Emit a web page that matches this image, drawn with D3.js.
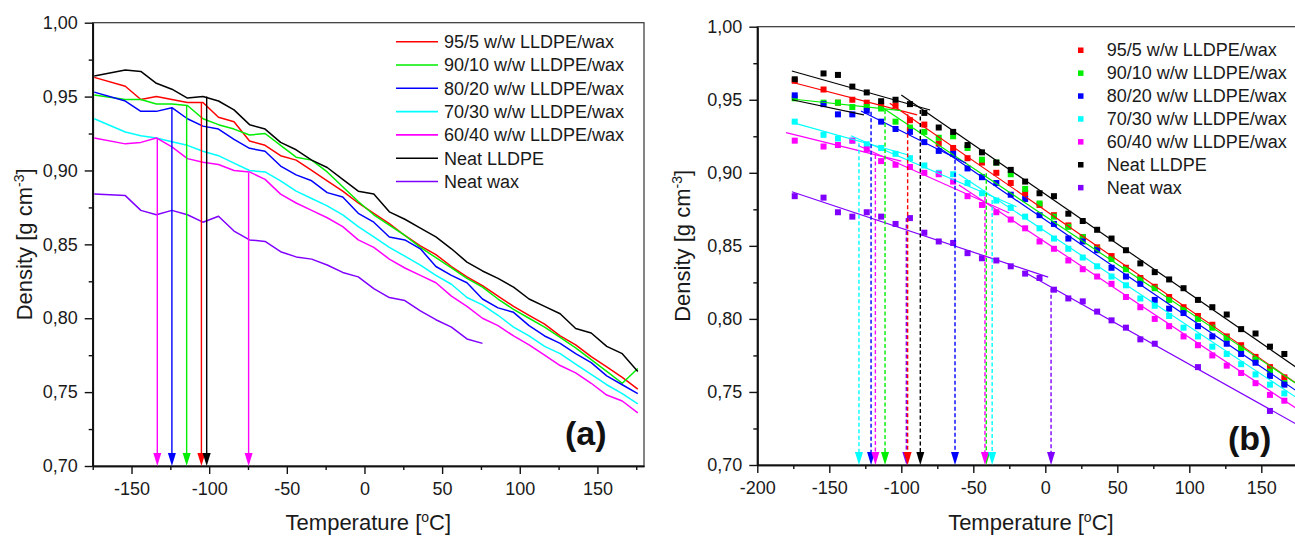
<!DOCTYPE html>
<html>
<head>
<meta charset="utf-8">
<script src="https://cdn.jsdelivr.net/npm/d3@7"></script>
<style>
  body { margin: 0; background: #fff; }
  svg { display: block; font-family: "Liberation Sans", Arial, sans-serif; }
</style>
</head>
<body>
<svg width="1295" height="537"></svg>
<script>
// measurement temperatures (°C)
const temps = [-174,-154,-144,-134,-124,-114,-104,-94,-84,-74,-64,-54,-44,-34,-24,-14,-4,6,16,26,36,46,56,66,76,86,96,106,116,126,136,146,156,166,176];

// densities (g cm-3), one per temperature
const blend95 = [0.963,0.957,0.948,0.950,0.948,0.946,0.946,0.936,0.933,0.920,0.917,0.910,0.907,0.900,0.893,0.886,0.878,0.871,0.864,0.856,0.849,0.843,0.835,0.828,0.822,0.815,0.808,0.802,0.796,0.788,0.782,0.774,0.767,0.760,0.752];
const blend90 = [0.951,0.948,0.948,0.945,0.945,0.944,0.935,0.931,0.928,0.924,0.925,0.917,0.909,0.907,0.899,0.889,0.879,0.870,0.863,0.856,0.848,0.841,0.834,0.827,0.821,0.813,0.806,0.800,0.794,0.787,0.780,0.772,0.764,0.756,0.766];
const blend80 = [0.953,0.947,0.940,0.940,0.9425,0.935,0.930,0.928,0.921,0.915,0.913,0.903,0.897,0.893,0.885,0.882,0.871,0.865,0.855,0.853,0.847,0.835,0.829,0.824,0.813,0.807,0.804,0.795,0.788,0.783,0.776,0.770,0.761,0.755,0.749];
const blend70 = [0.935,0.926,0.9235,0.922,0.9195,0.917,0.913,0.910,0.905,0.900,0.899,0.893,0.886,0.881,0.876,0.870,0.862,0.855,0.848,0.842,0.836,0.829,0.823,0.814,0.809,0.802,0.794,0.788,0.781,0.776,0.769,0.762,0.755,0.749,0.742];
const blend60 = [0.922,0.918,0.919,0.922,0.916,0.908,0.9055,0.904,0.900,0.899,0.894,0.884,0.878,0.873,0.868,0.862,0.853,0.848,0.840,0.834,0.829,0.824,0.815,0.808,0.800,0.795,0.788,0.782,0.775,0.768,0.763,0.756,0.748,0.744,0.736];
const neatLLDPE = [0.964,0.968,0.967,0.959,0.955,0.949,0.950,0.947,0.941,0.931,0.928,0.919,0.914,0.907,0.902,0.894,0.886,0.884,0.872,0.867,0.861,0.855,0.847,0.838,0.832,0.827,0.821,0.813,0.808,0.803,0.793,0.790,0.781,0.776,0.764];
const neatWax = [0.884,0.883,0.873,0.870,0.873,0.870,0.865,0.869,0.859,0.853,0.852,0.845,0.8415,0.840,0.836,0.831,0.828,0.820,0.814,0.812,0.805,0.799,0.794,0.786,0.783,null,null,0.767,null,null,null,null,0.737,null,null];

// linear fits of panel (b): [T1, rho1, T2, rho2]
const fit95 = [[-176,0.962,-89,0.9396],[-108,0.9476,180,0.752]];
const fit90 = [[-176,0.9505,-100,0.9425],[-113,0.9445,180,0.752]];
const fit80 = [[-128,0.9423,-55,0.9065],[-75,0.918,180,0.747]];
const fit70 = [[-176,0.9345,-95,0.9122],[-135,0.9254,-20,0.8768],[-60,0.899,180,0.7425]];
const fit60 = [[-180,0.9275,-100,0.908],[-130,0.9187,-25,0.8725],[-60,0.8917,180,0.735]];
const fitLLDPE = [[-176,0.9697,-80,0.943],[-100,0.9533,180,0.763],[-176,0.950,-126,0.9396]];
const fitWax = [[-176,0.887,2,0.8286],[-15,0.8323,180,0.7249]];

// transition arrows
const arrowSeriesA = [4,2,1,0,5,4];
const arrowTempA = [-133.4,-124,-114.5,-105,-101.6,-74.6];
const arrowRhoA = [0.9218,0.9425,0.9436,0.9463,0.950,0.8985];
const arrowSeriesB = [3,2,4,1,6,0,5,2,1,4,3,6];
const arrowTempB = [-129.4,-121,-118,-111.3,-96.5,-95.6,-86.8,-62.7,-41,-41.9,-36.9,4];
const arrowRhoB = [0.9202,0.9418,0.9122,0.943,0.869,0.940,0.943,0.9133,0.8997,0.8836,0.8814,0.821];

const seriesNames = ["95/5 w/w LLDPE/wax","90/10 w/w LLDPE/wax","80/20 w/w LLDPE/wax","70/30 w/w LLDPE/wax","60/40 w/w LLDPE/wax","Neat LLDPE","Neat wax"];
const seriesValues = [blend95,blend90,blend80,blend70,blend60,neatLLDPE,neatWax];
const seriesFits = [fit95,fit90,fit80,fit70,fit60,fitLLDPE,fitWax];

const yTicks = [0.70,0.75,0.80,0.85,0.90,0.95,1.00];
const yMinor = [0.725,0.775,0.825,0.875,0.925,0.975];
const xTicksA = [-150,-100,-50,0,50,100,150];
const xMinorA = [-175,-125,-75,-25,25,75,125,175];
const xTicksB = [-200,-150,-100,-50,0,50,100,150];
const xMinorB = [-175,-125,-75,-25,25,75,125,175];

const color = d3.scaleOrdinal().domain(seriesNames)
  .range(["#ff0000","#00ee00","#0000ff","#00ffff","#ff00ff","#000000","#8000ff"]);

const svg = d3.select("svg");

function makePanel(xDomain, xRange, yRange){
  return {
    x: d3.scaleLinear().domain(xDomain).range(xRange),
    y: d3.scaleLinear().domain([0.70, 1.00]).range(yRange)
  };
}
const A = makePanel([-175, 180], [92.7, 644], [466, 22.7]);
const B = makePanel([-200, 180], [757.3, 1304.5], [465, 26.7]);

function styleAxis(g){
  g.attr("font-family", null).attr("font-size", null);
  g.selectAll(".domain").attr("stroke", "#111").attr("stroke-width", 1.7);
  g.selectAll(".tick line").attr("stroke", "#111").attr("stroke-width", 1.4);
  g.selectAll("text").attr("fill", "#1a1a1a").style("font-size", "18px");
}

function drawAxes(p, xTicks, xMinor){
  const [x0, x1] = p.x.range(), [y0, y1] = p.y.range();
  svg.append("rect").attr("x", x0).attr("y", y1)
    .attr("width", x1 - x0).attr("height", y0 - y1)
    .attr("fill", "none").attr("stroke", "#333").attr("stroke-width", 1.2);

  svg.append("g").attr("transform", "translate(0," + y0 + ")")
    .call(d3.axisBottom(p.x).tickValues(xMinor).tickSize(4).tickSizeOuter(0).tickFormat(""))
    .call(styleAxis);
  svg.append("g").attr("transform", "translate(0," + y0 + ")")
    .call(d3.axisBottom(p.x).tickValues(xTicks).tickSize(8).tickSizeOuter(0).tickPadding(8)
      .tickFormat(d => String(d)))
    .call(styleAxis);

  svg.append("g").attr("transform", "translate(" + x0 + ",0)")
    .call(d3.axisLeft(p.y).tickValues(yMinor).tickSize(4).tickSizeOuter(0).tickFormat(""))
    .call(styleAxis);
  svg.append("g").attr("transform", "translate(" + x0 + ",0)")
    .call(d3.axisLeft(p.y).tickValues(yTicks).tickSize(8).tickSizeOuter(0).tickPadding(7)
      .tickFormat(d => d3.format(".2f")(d).replace(".", ",")))
    .call(styleAxis);
}

function axisTitles(p, yTitleX, xTitleX){
  const yMid = (p.y.range()[0] + p.y.range()[1]) / 2;
  const t = svg.append("text")
    .attr("transform", "translate(" + yTitleX + "," + yMid + ") rotate(-90)")
    .attr("text-anchor", "middle").style("font-size", "22px").attr("fill", "#1a1a1a");
  t.append("tspan").text("Density [g cm");
  t.append("tspan").attr("dy", -8).style("font-size", "14px").text("-3");
  t.append("tspan").attr("dy", 8).text("]");

  const u = svg.append("text").attr("x", xTitleX).attr("y", 530)
    .attr("text-anchor", "middle").style("font-size", "22px").attr("fill", "#1a1a1a");
  u.append("tspan").text("Temperature [");
  u.append("tspan").attr("dy", -8).style("font-size", "14px").text("o");
  u.append("tspan").attr("dy", 8).text("C]");
}

function drawArrow(p, t, rho, c, dashed){
  const xx = p.x(t), yTop = p.y(rho), yBot = p.y(0.70);
  svg.append("line").attr("x1", xx).attr("x2", xx).attr("y1", yTop).attr("y2", yBot - 8)
    .attr("stroke", c).attr("stroke-width", 1.4)
    .attr("stroke-dasharray", dashed ? "4,2.5" : null);
  svg.append("path")
    .attr("d", "M" + (xx - 4) + "," + (yBot - 13) + "L" + (xx + 4) + "," + (yBot - 13) + "L" + xx + "," + yBot + "Z")
    .attr("fill", c);
}

// ---------- panel (a) ----------
drawAxes(A, xTicksA, xMinorA);
axisTitles(A, 32, (A.x.range()[0] + A.x.range()[1]) / 2);

const lineA = d3.line().defined(d => d[1] != null).x(d => A.x(d[0])).y(d => A.y(d[1]));
seriesNames.forEach((name, i) => {
  svg.append("path")
    .datum(temps.map((t, j) => [t, seriesValues[i][j]]))
    .attr("fill", "none").attr("stroke", color(name)).attr("stroke-width", 1.5)
    .attr("stroke-linejoin", "round").attr("d", lineA);
});
arrowTempA.forEach((t, i) => drawArrow(A, t, arrowRhoA[i], color(seriesNames[arrowSeriesA[i]]), false));

const legA = svg.append("g");
seriesNames.forEach((name, i) => {
  const yy = 41.7 + i * 23.3;
  legA.append("line").attr("x1", 396).attr("x2", 438).attr("y1", yy).attr("y2", yy)
    .attr("stroke", color(name)).attr("stroke-width", 1.6);
  legA.append("text").attr("x", 444).attr("y", yy).attr("dy", "0.36em")
    .style("font-size", "18px").attr("fill", "#1a1a1a").text(name);
});
svg.append("text").attr("x", 565).attr("y", 445).style("font-size", "34px")
  .attr("font-weight", "bold").attr("fill", "#111").text("(a)");

// ---------- panel (b) ----------
drawAxes(B, xTicksB, xMinorB);
axisTitles(B, 690, B.x(-10));

seriesNames.forEach((name, i) => {
  svg.append("g").selectAll("rect")
    .data(temps.map((t, j) => [t, seriesValues[i][j]]).filter(d => d[1] != null))
    .join("rect")
    .attr("x", d => B.x(d[0]) - 3).attr("y", d => B.y(d[1]) - 3)
    .attr("width", 6).attr("height", 6).attr("fill", color(name));
});
const lineB = d3.line().x(d => B.x(d[0])).y(d => B.y(d[1]));
seriesNames.forEach((name, i) => {
  seriesFits[i].forEach(f => {
    svg.append("path").datum([[f[0], f[1]], [f[2], f[3]]])
      .attr("fill", "none").attr("stroke", color(name)).attr("stroke-width", 1.2).attr("d", lineB);
  });
});
arrowTempB.forEach((t, i) => drawArrow(B, t, arrowRhoB[i], color(seriesNames[arrowSeriesB[i]]), true));

const legB = svg.append("g");
seriesNames.forEach((name, i) => {
  const yy = 50 + i * 22.9;
  legB.append("rect").attr("x", 1078).attr("y", yy - 2.5).attr("width", 5.5).attr("height", 5.5)
    .attr("fill", color(name));
  legB.append("text").attr("x", 1106.7).attr("y", yy).attr("dy", "0.36em")
    .style("font-size", "18px").attr("fill", "#1a1a1a").text(name);
});
svg.append("text").attr("x", 1228).attr("y", 450).style("font-size", "34px")
  .attr("font-weight", "bold").attr("fill", "#111").text("(b)");
</script>
</body>
</html>
